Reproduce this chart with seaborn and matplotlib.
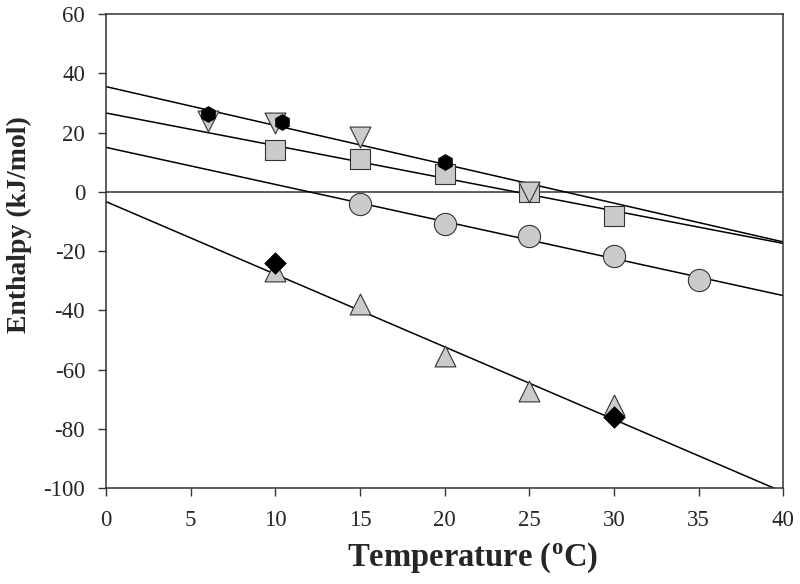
import matplotlib
matplotlib.use("Agg")
import matplotlib.pyplot as plt
import numpy as np
import pandas as pd
import seaborn as sns

# measured points (temperature in C, enthalpy in kJ/mol)
sq_t = [10, 15, 20, 25, 30]
sq_h = [14.1, 11.1, 6.1, 0.0, -8.0]

circ_t = [15, 20, 25, 30, 35]
circ_h = [-4.0, -10.8, -14.8, -21.8, -29.6]

tri_t = [10, 15, 20, 25, 30]
tri_h = [-26.8, -38.0, -55.3, -67.2, -72.0]

inv_t = [6, 10, 15, 25]
inv_h = [24.0, 23.2, 18.6, 0.0]

hex_t = [6, 10.4, 20]
hex_h = [26.2, 23.5, 10.2]

dia_t = [10, 30]
dia_h = [-24.0, -76.0]

# fitted lines: intercept at 0 C and slope
fit_names = ["hex/inv", "square", "circle", "triangle"]
fit_intercepts = [35.5, 26.6, 15.0, -3.3]
fit_slopes = [-1.31, -1.10, -1.25, -2.45]

sns.set_style("ticks")
plt.rcParams["font.family"] = ["Liberation Serif", "DejaVu Serif"]
plt.rcParams["axes.unicode_minus"] = False

fig = plt.figure(figsize=(8, 5.84), dpi=100)
ax = fig.add_axes([0.1325, 0.164, 0.979 - 0.1325, 0.976 - 0.164])

xs = np.array([0, 40])
lines = pd.DataFrame({
    "T": np.tile(xs, len(fit_names)),
    "H": np.concatenate([b + m * xs for b, m in zip(fit_intercepts, fit_slopes)]),
    "fit": np.repeat(fit_names, len(xs)),
})
for name, grp in lines.groupby("fit"):
    ax.plot(grp["T"], grp["H"], color="black", lw=1.1, zorder=2)

ax.axhline(0, color="#333333", lw=1.1, zorder=1)

gray = "#cbcbcb"
sns.scatterplot(x=sq_t, y=sq_h, marker="s", s=14**2, color=gray,
                edgecolor="#333333", linewidth=0.8, ax=ax, zorder=3)
sns.scatterplot(x=circ_t, y=circ_h, marker="o", s=16**2, color=gray,
                edgecolor="#333333", linewidth=0.8, ax=ax, zorder=3)
sns.scatterplot(x=tri_t, y=tri_h, marker="^", s=15**2, color=gray,
                edgecolor="#333333", linewidth=0.8, ax=ax, zorder=3)
sns.scatterplot(x=inv_t, y=inv_h, marker="v", s=15**2, color=gray,
                edgecolor="#333333", linewidth=0.8, ax=ax, zorder=4)
sns.scatterplot(x=hex_t, y=hex_h, marker="h", s=11.5**2, color="black",
                edgecolor="black", linewidth=0.5, ax=ax, zorder=5)
sns.scatterplot(x=dia_t, y=dia_h, marker="D", s=11**2, color="black",
                edgecolor="black", linewidth=0.5, ax=ax, zorder=5)

ax.set_xlim(0, 40)
ax.set_ylim(-100, 60)
ax.set_xticks(range(0, 41, 5))
ax.set_yticks(range(-100, 61, 20))
ax.tick_params(direction="out", length=6, width=1, labelsize=16.5, color="#333333")
ax.tick_params(axis="x", pad=10)
ax.tick_params(axis="y", pad=9)
for sp in ax.spines.values():
    sp.set_visible(True)
    sp.set_color("#333333")
    sp.set_linewidth(1.1)

ax.set_xlabel("Temperature ($\\mathregular{^{o}}$C)", fontsize=23.5, fontweight="bold")
ax.set_ylabel("Enthalpy (kJ/mol)", fontsize=20, fontweight="bold")
ax.xaxis.set_label_coords(0.542, -0.11)
ax.yaxis.set_label_coords(-0.11, 0.555)

fig.savefig("out.png", dpi=100)
